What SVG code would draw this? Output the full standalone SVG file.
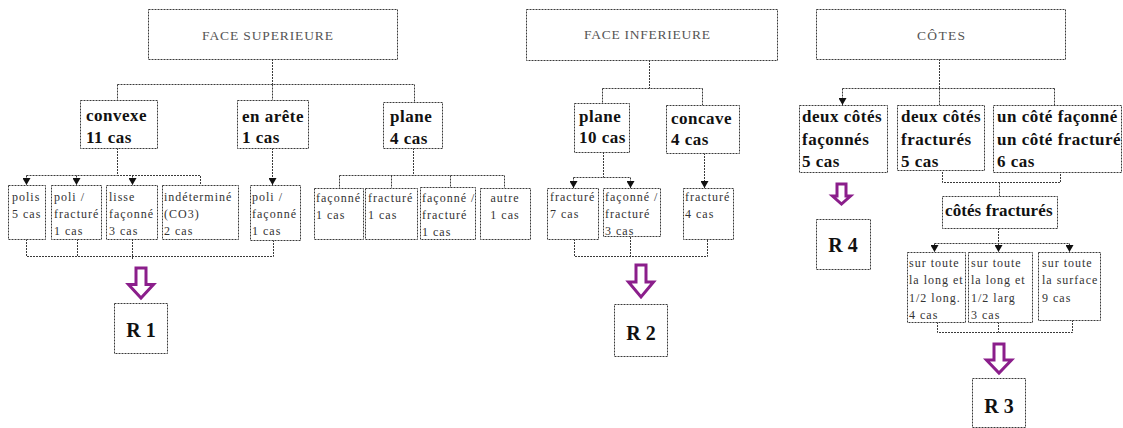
<svg xmlns="http://www.w3.org/2000/svg" width="1123" height="428" viewBox="0 0 1123 428">
<style>
.b{fill:#fff;stroke:#3a3a3a;stroke-width:1;stroke-dasharray:2 1}
.c{fill:none;stroke:#3a3a3a;stroke-width:1;stroke-dasharray:2 1}
.h{font-family:"Liberation Serif",serif;font-size:13.5px;fill:#555}
.m{font-family:"Liberation Serif",serif;font-size:17px;font-weight:bold;fill:#111;letter-spacing:0.5px}
.s{font-family:"Liberation Serif",serif;font-size:12px;fill:#333;letter-spacing:1px}
.r{font-family:"Liberation Serif",serif;font-size:20px;font-weight:bold;fill:#111;text-anchor:middle}
.p{fill:#fff;stroke:#8B1E8B;stroke-width:3;stroke-linejoin:miter}
</style>
<defs>
<marker id="ah" markerUnits="userSpaceOnUse" markerWidth="8" markerHeight="8" refX="7" refY="4" orient="auto">
<path d="M0,0 L7,4 L0,8 z" fill="#111"/>
</marker>
</defs>
<rect width="1123" height="428" fill="#fff"/>

<g id="connectors">
<path class="c" d="M272.5,59 V84.5 M117.5,84.5 H414.5 M117.5,84.5 V100 M272.5,84.5 V100 M414.5,84.5 V102"/>
<path class="c" d="M117.5,148 V175.5 H200.5 V185 M26.5,175.5 H117.5"/>
<path class="c" d="M26.5,175.5 V185" marker-end="url(#ah)"/>
<path class="c" d="M76.5,175.5 V185" marker-end="url(#ah)"/>
<path class="c" d="M132.5,175.5 V185" marker-end="url(#ah)"/>
<path class="c" d="M272.5,148 V185" marker-end="url(#ah)"/>
<path class="c" d="M413.5,148 V175.5 M339.5,175.5 H504.5 M339.5,175.5 V188 M391.5,175.5 V188 M450.5,175.5 V188 M504.5,175.5 V188"/>
<path class="c" d="M26.5,239 V256.5 H273.5 V240 M77.5,239 V256.5 M132.5,239 V259"/>
<path class="c" d="M649.5,60 V88.5 M602.5,88.5 H702.5 M602.5,88.5 V103 M702.5,88.5 V105"/>
<path class="c" d="M603.5,152 V177.5 M573.5,177.5 H630.5"/>
<path class="c" d="M573.5,177.5 V188" marker-end="url(#ah)"/>
<path class="c" d="M630.5,177.5 V188" marker-end="url(#ah)"/>
<path class="c" d="M704.5,153 V188" marker-end="url(#ah)"/>
<path class="c" d="M574.5,239 V256.5 H707.5 V239 M630.5,237 V256.5"/>
<path class="c" d="M939.5,59 V88.5 M842.5,88.5 H1054.5 M939.5,88.5 V105 M1054.5,88.5 V105"/>
<path class="c" d="M842.5,88.5 V105" marker-end="url(#ah)"/>
<path class="c" d="M942.5,172 V182.5 H1060.5 V172 M999.5,182.5 V196"/>
<path class="c" d="M998.5,228 V243.5 M934.5,243.5 H1069.5"/>
<path class="c" d="M934.5,243.5 V252" marker-end="url(#ah)"/>
<path class="c" d="M998.5,243.5 V252" marker-end="url(#ah)"/>
<path class="c" d="M1069.5,243.5 V252" marker-end="url(#ah)"/>
<path class="c" d="M937.5,322 V332.5 H1072.5 V320 M998.5,322 V332.5"/>
</g>

<g id="face-superieure">
<rect class="b" x="148.5" y="9.5" width="249" height="50"/>
<text class="h" x="202" y="40" textLength="131">FACE SUPERIEURE</text>
</g>
<g id="fs-convexe">
<rect class="b" x="80.5" y="100.5" width="77" height="48"/>
<text class="m" x="86" y="121">convexe</text>
<text class="m" x="86" y="143">11 cas</text>
</g>
<g id="fs-arete">
<rect class="b" x="237.5" y="100.5" width="71" height="48"/>
<text class="m" x="242" y="122">en arête</text>
<text class="m" x="242" y="143">1 cas</text>
</g>
<g id="fs-plane">
<rect class="b" x="383.5" y="102.5" width="59" height="46"/>
<text class="m" x="390" y="122">plane</text>
<text class="m" x="390" y="144">4 cas</text>
</g>
<g id="fs-polis">
<rect class="b" x="8.5" y="185.5" width="37" height="54"/>
<text class="s" x="12" y="201">polis</text>
<text class="s" x="12" y="218">5 cas</text>
</g>
<g id="fs-poli-fracture">
<rect class="b" x="51.5" y="185.5" width="50" height="54"/>
<text class="s" x="54" y="201">poli /</text>
<text class="s" x="54" y="218">fracturé</text>
<text class="s" x="54" y="235">1 cas</text>
</g>
<g id="fs-lisse">
<rect class="b" x="106.5" y="185.5" width="51" height="54"/>
<text class="s" x="109" y="201">lisse</text>
<text class="s" x="109" y="218">façonné</text>
<text class="s" x="109" y="235">3 cas</text>
</g>
<g id="fs-indetermine">
<rect class="b" x="162.5" y="185.5" width="76" height="54"/>
<text class="s" x="164" y="201">indéterminé</text>
<text class="s" x="164" y="218">(CO3)</text>
<text class="s" x="164" y="235">2 cas</text>
</g>
<g id="fs-poli-faconne">
<rect class="b" x="250.5" y="185.5" width="50" height="55"/>
<text class="s" x="252" y="201">poli /</text>
<text class="s" x="252" y="218">façonné</text>
<text class="s" x="252" y="235">1 cas</text>
</g>
<g id="fs-faconne">
<rect class="b" x="314.5" y="188.5" width="49" height="51"/>
<text class="s" x="316" y="202">façonné</text>
<text class="s" x="316" y="219">1 cas</text>
</g>
<g id="fs-fracture">
<rect class="b" x="365.5" y="188.5" width="52" height="51"/>
<text class="s" x="368" y="202">fracturé</text>
<text class="s" x="368" y="219">1 cas</text>
</g>
<g id="fs-faconne-fracture">
<rect class="b" x="420.5" y="187.5" width="55" height="52"/>
<text class="s" x="422" y="202">façonné /</text>
<text class="s" x="422" y="219">fracturé</text>
<text class="s" x="422" y="236">1 cas</text>
</g>
<g id="fs-autre">
<rect class="b" x="480.5" y="188.5" width="50" height="51"/>
<text class="s" x="505" y="202" text-anchor="middle">autre</text>
<text class="s" x="505" y="219" text-anchor="middle">1 cas</text>
</g>
<g id="r1">
<path class="p" d="M136,268 H146 V284.5 H153.5 L141,298 L128.5,284.5 H136 Z"/>
<rect class="b" x="114.5" y="303.5" width="53" height="50"/>
<text class="r" x="141" y="337">R 1</text>
</g>

<g id="face-inferieure">
<rect class="b" x="526.5" y="9.5" width="251" height="51"/>
<text class="h" x="584" y="39" textLength="126">FACE INFERIEURE</text>
</g>
<g id="fi-plane">
<rect class="b" x="574.5" y="103.5" width="55" height="49"/>
<text class="m" x="579" y="122">plane</text>
<text class="m" x="579" y="143">10 cas</text>
</g>
<g id="fi-concave">
<rect class="b" x="666.5" y="105.5" width="73" height="48"/>
<text class="m" x="671" y="124">concave</text>
<text class="m" x="671" y="145">4 cas</text>
</g>
<g id="fi-fracture7">
<rect class="b" x="547.5" y="188.5" width="51" height="51"/>
<text class="s" x="550" y="201">fracturé</text>
<text class="s" x="550" y="218">7 cas</text>
</g>
<g id="fi-faconne-fracture">
<rect class="b" x="603.5" y="188.5" width="57" height="48"/>
<text class="s" x="605" y="201">façonné /</text>
<text class="s" x="605" y="218">fracturé</text>
<text class="s" x="605" y="235">3 cas</text>
</g>
<g id="fi-fracture4">
<rect class="b" x="683.5" y="188.5" width="50" height="51"/>
<text class="s" x="685" y="201">fracturé</text>
<text class="s" x="685" y="218">4 cas</text>
</g>
<g id="r2">
<path class="p" d="M636,265 H646 V282 H653.5 L641,297 L628.5,282 H636 Z"/>
<rect class="b" x="614.5" y="304.5" width="53" height="52"/>
<text class="r" x="641" y="340">R 2</text>
</g>

<g id="cotes">
<rect class="b" x="816.5" y="9.5" width="249" height="50"/>
<text class="h" x="917" y="40" textLength="48">CÔTES</text>
</g>
<g id="c-deux-faconnes">
<rect class="b" x="799.5" y="105.5" width="88" height="67"/>
<text class="m" x="802" y="122">deux côtés</text>
<text class="m" x="802" y="144.5">façonnés</text>
<text class="m" x="802" y="167">5 cas</text>
</g>
<g id="c-deux-fractures">
<rect class="b" x="897.5" y="105.5" width="87" height="65"/>
<text class="m" x="901" y="122">deux côtés</text>
<text class="m" x="901" y="144.5">fracturés</text>
<text class="m" x="901" y="167">5 cas</text>
</g>
<g id="c-un-cote">
<rect class="b" x="993.5" y="105.5" width="128" height="67"/>
<text class="m" x="997" y="122">un côté façonné</text>
<text class="m" x="997" y="144.5">un côté fracturé</text>
<text class="m" x="997" y="167">6 cas</text>
</g>
<g id="c-cotes-fractures">
<rect class="b" x="942.5" y="196.5" width="115" height="32"/>
<text class="m" x="945" y="216" textLength="108">côtés fracturés</text>
</g>
<g id="c-long-4">
<rect class="b" x="907.5" y="252.5" width="58" height="70"/>
<text class="s" x="909" y="267">sur toute</text>
<text class="s" x="909" y="284">la long et</text>
<text class="s" x="909" y="302">1/2 long.</text>
<text class="s" x="909" y="319">4 cas</text>
</g>
<g id="c-long-3">
<rect class="b" x="968.5" y="252.5" width="64" height="70"/>
<text class="s" x="971" y="267">sur toute</text>
<text class="s" x="971" y="284">la long et</text>
<text class="s" x="971" y="302">1/2 larg</text>
<text class="s" x="971" y="319">3 cas</text>
</g>
<g id="c-surface">
<rect class="b" x="1038.5" y="252.5" width="62" height="68"/>
<text class="s" x="1042" y="267">sur toute</text>
<text class="s" x="1042" y="284">la surface</text>
<text class="s" x="1042" y="302">9 cas</text>
</g>
<g id="r3">
<path class="p" d="M994,344 H1004 V360 H1011.5 L999,373 L986.5,360 H994 Z"/>
<rect class="b" x="972.5" y="378.5" width="53" height="49"/>
<text class="r" x="999" y="413">R 3</text>
</g>
<g id="r4">
<path class="p" d="M837,184 H846 V196 H850.5 L841.5,204 L832.5,196 H837 Z"/>
<rect class="b" x="816.5" y="219.5" width="54" height="50"/>
<text class="r" x="843" y="252">R 4</text>
</g>
</svg>
